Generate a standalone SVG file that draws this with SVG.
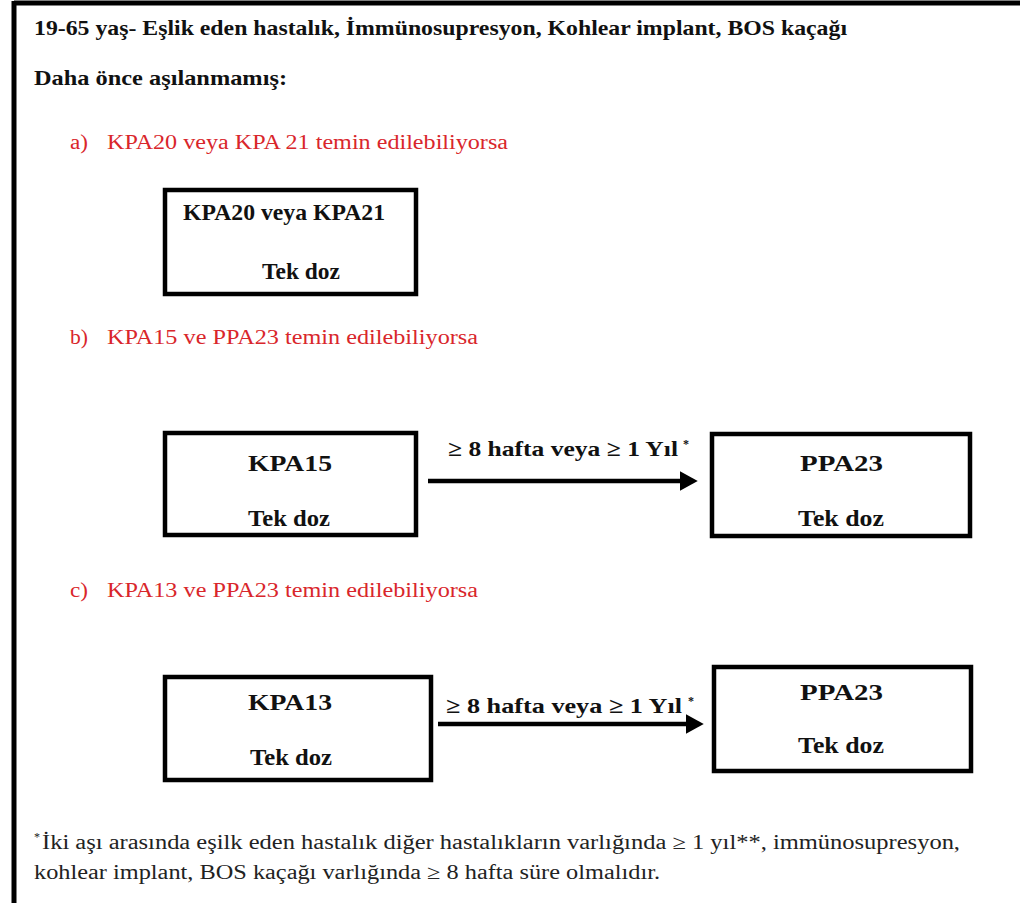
<svg xmlns="http://www.w3.org/2000/svg" width="1020" height="903" viewBox="0 0 1020 903">
<style>
.b{font-family:"Liberation Serif","Times New Roman",serif;font-weight:bold;font-size:22px;fill:#111}
.bx{font-family:"Liberation Serif","Times New Roman",serif;font-weight:bold;font-size:23px;fill:#111}
.r{font-family:"Liberation Serif","Times New Roman",serif;font-size:20px;fill:#d9262b}
.n{font-family:"Liberation Serif","Times New Roman",serif;font-size:20px;fill:#222}
.sup{font-size:12px}
.box{fill:#fff;stroke:#000;stroke-width:4.5}
.arr{stroke:#000;stroke-width:4.5;fill:none}
</style>
<defs>
<marker id="ah" markerWidth="4" markerHeight="4.4" refX="0.5" refY="2.2" orient="auto" markerUnits="strokeWidth">
<path d="M0,0 L4,2.2 L0,4.4 Z" fill="#000"/>
</marker>
</defs>
<rect width="1020" height="903" fill="#fff"/>
<g id="frame">
<line x1="14" y1="3" x2="1020" y2="3" stroke="#000" stroke-width="5"/>
<line x1="14" y1="1" x2="14" y2="903" stroke="#000" stroke-width="5"/>
</g>
<g id="headings">
<text class="b" x="34" y="35" textLength="813" lengthAdjust="spacingAndGlyphs">19-65 yaş- Eşlik eden hastalık, İmmünosupresyon, Kohlear implant, BOS kaçağı</text>
<text class="b" x="34" y="85" textLength="253" lengthAdjust="spacingAndGlyphs">Daha önce aşılanmamış:</text>
<text class="r" x="70" y="149" textLength="18" lengthAdjust="spacingAndGlyphs">a)</text>
<text class="r" x="107" y="149" textLength="401" lengthAdjust="spacingAndGlyphs">KPA20 veya KPA 21 temin edilebiliyorsa</text>
<text class="r" x="70" y="344" textLength="18" lengthAdjust="spacingAndGlyphs">b)</text>
<text class="r" x="107" y="344" textLength="371" lengthAdjust="spacingAndGlyphs">KPA15 ve PPA23 temin edilebiliyorsa</text>
<text class="r" x="70" y="597" textLength="18" lengthAdjust="spacingAndGlyphs">c)</text>
<text class="r" x="107" y="597" textLength="371" lengthAdjust="spacingAndGlyphs">KPA13 ve PPA23 temin edilebiliyorsa</text>
</g>
<g id="nodeA">
<rect class="box" x="165" y="190" width="251" height="104"/>
<text class="bx" x="183" y="220" textLength="202" lengthAdjust="spacingAndGlyphs">KPA20 veya KPA21</text>
<text class="bx" x="262" y="279" textLength="78" lengthAdjust="spacingAndGlyphs">Tek doz</text>
</g>
<g id="nodeB1">
<rect class="box" x="165" y="433" width="251" height="102"/>
<text class="bx" x="248" y="471" textLength="84" lengthAdjust="spacingAndGlyphs">KPA15</text>
<text class="bx" x="248" y="526" textLength="82" lengthAdjust="spacingAndGlyphs">Tek doz</text>
</g>
<g id="nodeB2">
<rect class="box" x="712" y="434" width="258" height="102"/>
<text class="bx" x="800" y="471" textLength="83" lengthAdjust="spacingAndGlyphs">PPA23</text>
<text class="bx" x="798" y="526" textLength="86" lengthAdjust="spacingAndGlyphs">Tek doz</text>
</g>
<g id="nodeC1">
<rect class="box" x="165" y="677" width="266" height="103"/>
<text class="bx" x="248" y="710" textLength="84" lengthAdjust="spacingAndGlyphs">KPA13</text>
<text class="bx" x="250" y="765" textLength="82" lengthAdjust="spacingAndGlyphs">Tek doz</text>
</g>
<g id="nodeC2">
<rect class="box" x="714" y="667" width="257" height="104"/>
<text class="bx" x="800" y="700" textLength="83" lengthAdjust="spacingAndGlyphs">PPA23</text>
<text class="bx" x="798" y="753" textLength="86" lengthAdjust="spacingAndGlyphs">Tek doz</text>
</g>
<g id="connectors">
<line class="arr" x1="428" y1="481" x2="682" y2="481" marker-end="url(#ah)"/>
<line class="arr" x1="438" y1="724" x2="688" y2="724" marker-end="url(#ah)"/>
<text class="b" x="448" y="456" textLength="230" lengthAdjust="spacingAndGlyphs">≥ 8 hafta veya ≥ 1 Yıl</text>
<text class="b sup" x="683" y="448">*</text>
<text class="b" x="446" y="713" textLength="236" lengthAdjust="spacingAndGlyphs">≥ 8 hafta veya ≥ 1 Yıl</text>
<text class="b sup" x="688" y="705">*</text>
</g>
<g id="footnote">
<text class="n sup" x="34" y="841">*</text>
<text class="n" x="42" y="849" textLength="918" lengthAdjust="spacingAndGlyphs">İki aşı arasında eşilk eden hastalık diğer hastalıkların varlığında ≥ 1 yıl**, immünosupresyon,</text>
<text class="n" x="34" y="879" textLength="626" lengthAdjust="spacingAndGlyphs">kohlear implant, BOS kaçağı varlığında ≥ 8 hafta süre olmalıdır.</text>
</g>
</svg>
